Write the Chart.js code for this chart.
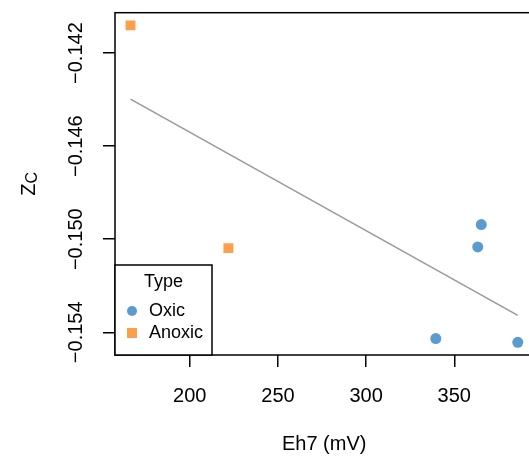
<!DOCTYPE html>
<html>
<head>
<meta charset="utf-8">
<script src="https://cdn.jsdelivr.net/npm/chart.js@4"></script>
<style>
  html, body { margin: 0; padding: 0; overflow: hidden; background: #fff; }
  #wrap { width: 560px; height: 456px; }
</style>
</head>
<body>
<div id="wrap"><canvas id="chart" width="560" height="456"></canvas></div>
<script>
// data
const oxicX = [365.3, 363.3, 339.5, 386.0];
const oxicY = [-0.14937, -0.15033, -0.15427, -0.15443];
const anoxicX = [166.4, 221.9];
const anoxicY = [-0.14081, -0.15038];
const fitX = [166.4, 386.0];
const fitY = [-0.14398, -0.15327];

const xTicks = [200, 250, 300, 350];
const yTicks = [-0.154, -0.152, -0.150, -0.148, -0.146, -0.144, -0.142];
const yTickLabels = ["\u22120.154", "", "\u22120.150", "", "\u22120.146", "", "\u22120.142"];

const FONT = "'Liberation Sans', Arial, sans-serif";
const BLUE = "#5a9bd0";
const ORANGE = "#fd9e4b";

function pts(xs, ys) {
  return xs.map((x, i) => ({ x: x, y: ys[i] }));
}

// frame round the plot area
const boxPlugin = {
  id: "box",
  afterDraw(chart) {
    const a = chart.chartArea;
    const ctx = chart.ctx;
    ctx.save();
    ctx.strokeStyle = "#000";
    ctx.lineWidth = 1.5;
    ctx.strokeRect(a.left, a.top, a.right - a.left, a.bottom - a.top);
    ctx.restore();
  },
};

// y title with subscript
const yTitlePlugin = {
  id: "ytitle",
  afterDraw(chart) {
    const a = chart.chartArea;
    const ctx = chart.ctx;
    const cy = (a.top + a.bottom) / 2;
    ctx.save();
    ctx.translate(29, cy);
    ctx.rotate(-Math.PI / 2);
    ctx.fillStyle = "#000";
    ctx.textBaseline = "alphabetic";
    ctx.font = "20px " + FONT;
    const wz = ctx.measureText("Z").width;
    ctx.font = "16px " + FONT;
    const wc = ctx.measureText("C").width;
    const x0 = -(wz + wc) / 2;
    ctx.font = "20px " + FONT;
    ctx.fillText("Z", x0, 6);
    ctx.font = "16px " + FONT;
    ctx.fillText("C", x0 + wz, 8);
    ctx.restore();
  },
};

// legend box in the lower left corner
const legendPlugin = {
  id: "typeLegend",
  afterDraw(chart) {
    const a = chart.chartArea;
    const ctx = chart.ctx;
    const left = a.left, right = a.left + 97, top = 265, bottom = a.bottom;
    ctx.save();
    ctx.fillStyle = "#fff";
    ctx.fillRect(left, top, right - left, bottom - top);
    ctx.strokeStyle = "#000";
    ctx.lineWidth = 1.5;
    ctx.strokeRect(left, top, right - left, bottom - top);
    ctx.fillStyle = "#000";
    ctx.font = "18px " + FONT;
    ctx.textBaseline = "middle";
    ctx.textAlign = "center";
    ctx.fillText("Type", (left + right) / 2, 282);
    ctx.textAlign = "left";
    const rows = [chart.data.datasets[1], chart.data.datasets[2]];
    rows.forEach((ds, i) => {
      const y = 311 + i * 22;
      ctx.fillStyle = ds.backgroundColor;
      if (ds.pointStyle === "rect") {
        ctx.fillRect(left + 12, y - 5, 10, 10);
      } else {
        ctx.beginPath();
        ctx.arc(left + 17, y, 5, 0, Math.PI * 2);
        ctx.fill();
      }
      ctx.fillStyle = "#000";
      ctx.fillText(ds.label, left + 34, y);
    });
    ctx.restore();
  },
};

new Chart(document.getElementById("chart"), {
  type: "scatter",
  data: {
    datasets: [
      {
        type: "line",
        label: "fit",
        data: pts(fitX, fitY),
        borderColor: "#9a9a9a",
        borderWidth: 1.6,
        pointRadius: 0,
        fill: false,
      },
      {
        label: "Oxic",
        data: pts(oxicX, oxicY),
        backgroundColor: BLUE,
        borderColor: BLUE,
        pointStyle: "circle",
        pointRadius: 5.5,
        borderWidth: 0,
      },
      {
        label: "Anoxic",
        data: pts(anoxicX, anoxicY),
        backgroundColor: ORANGE,
        borderColor: ORANGE,
        pointStyle: "rect",
        pointRadius: 7,
        borderWidth: 0,
      },
    ],
  },
  options: {
    responsive: false,
    animation: false,
    devicePixelRatio: 1,
    layout: { padding: { left: 0, top: 12.7, right: 26.7, bottom: 0 } },
    plugins: {
      legend: { display: false },
      tooltip: { enabled: false },
    },
    scales: {
      x: {
        type: "linear",
        min: 157.6,
        max: 394.8,
        afterBuildTicks: (s) => { s.ticks = xTicks.map((v) => ({ value: v })); },
        afterFit: (s) => { s.height = 101; },
        grid: { drawOnChartArea: false, drawTicks: true, tickLength: 12, color: "#000", lineWidth: 1.5 },
        border: { display: false },
        ticks: { color: "#000", font: { family: FONT, size: 20 }, padding: 17, maxRotation: 0 },
        title: { display: true, text: "Eh7 (mV)", color: "#000", font: { family: FONT, size: 20 }, padding: { top: 0, bottom: 0 } },
      },
      y: {
        type: "linear",
        min: -0.154975,
        max: -0.140265,
        afterBuildTicks: (s) => { s.ticks = yTicks.map((v) => ({ value: v })); },
        afterFit: (s) => { s.width = 115; },
        grid: { drawOnChartArea: false, drawTicks: true, tickLength: 12, color: "#000", lineWidth: 1.5 },
        border: { display: false },
        ticks: {
          color: "#000",
          font: { family: FONT, size: 20 },
          minRotation: 90,
          maxRotation: 90,
          crossAlign: "center",
          padding: -4,
          callback: (v, i) => yTickLabels[i],
        },
      },
    },
  },
  plugins: [boxPlugin, yTitlePlugin, legendPlugin],
});
</script>
</body>
</html>
